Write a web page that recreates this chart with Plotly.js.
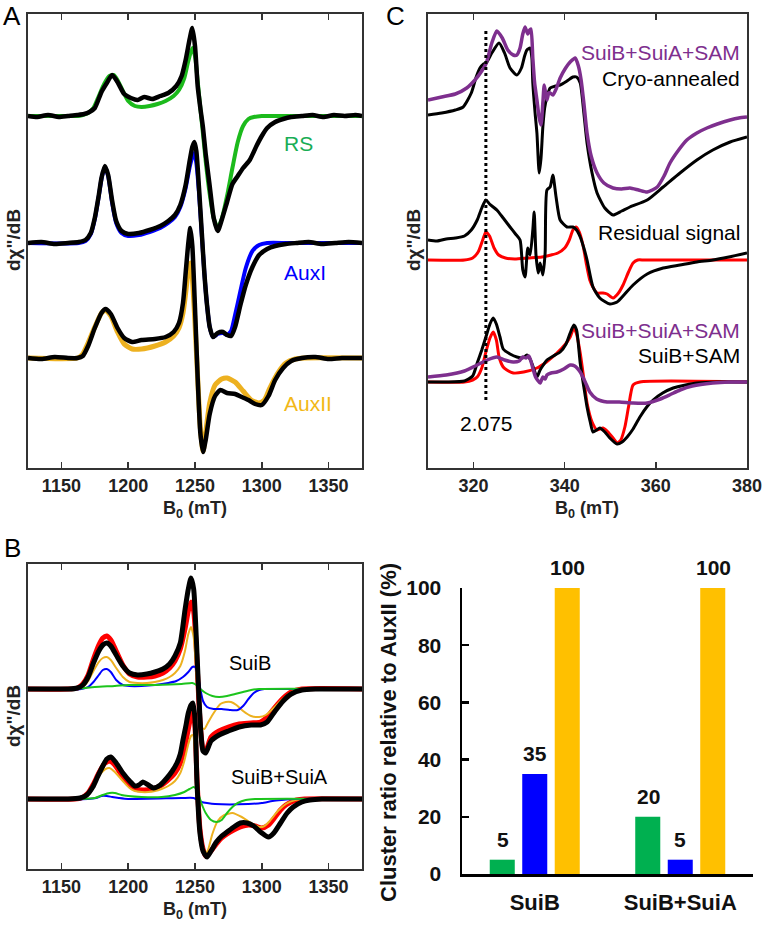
<!DOCTYPE html>
<html><head><meta charset="utf-8">
<script src="https://cdn.plot.ly/plotly-3.0.1.min.js"></script>
<style>html,body{margin:0;padding:0;background:#fff;}#chart{width:762px;height:927px;}</style>
</head><body><div id="chart"></div>
<script>
// ===== Panel A (B0 in mT, signal in arbitrary units relative to each baseline) =====
const aRSDataX = [1125,1132,1140,1148,1155,1162,1167,1171,1175,1180,1184,1188,1192,1197,1202,1207,1212,1218,1224,1230,1236,1240,1243,1246,1248,1250,1252,1254,1256,1258,1261,1264,1267,1270,1274,1278,1282,1286,1291,1296,1300,1304,1310,1316,1322,1330,1338,1346,1354,1362,1370,1375];
const aRSDataY = [0,-1,1,-1,0,1,2,4,8,24,33,41,34,22,18,16,19,17,20,23,30,40,56,77,88,70,30,8,-12,-38,-70,-102,-115,-104,-86,-68,-60,-52,-44,-30,-20,-12,-6,-3,-1,0,1,-1,1,0,1,0];
const aRSFitX = [1125,1140,1155,1162,1166,1170,1174,1178,1182,1186,1189,1192,1196,1200,1205,1210,1216,1222,1228,1234,1238,1242,1245,1248,1250,1252,1254,1256,1258,1261,1264,1267,1270,1274,1278,1282,1286,1290,1294,1300,1320,1350,1375];
const aRSFitY = [0,0,0,0,1,3,8,20,32,40,41,36,25,15,10,9,10,12,15,20,26,38,55,68,60,35,8,-18,-45,-78,-102,-112,-103,-80,-52,-26,-10,-3,-1,0,0,0,0];
const aAux1DataX = [1125,1135,1145,1155,1163,1168,1172,1175,1178,1180,1182.5,1185,1188,1191,1195,1200,1208,1216,1224,1230,1235,1239,1243,1246,1248,1249.5,1251,1253,1255,1257,1259,1261,1263.5,1267,1271,1274,1277,1280,1284,1288,1293,1298,1304,1310,1318,1326,1335,1345,1355,1365,1375];
const aAux1DataY = [0,1,-1,0,1,3,10,25,48,65,77,68,42,22,12,9,10,13,17,22,28,38,58,82,96,101,92,55,12,-30,-62,-84,-94,-90,-89,-92,-93,-84,-62,-42,-24,-12,-6,-3,-1,0,1,-1,0,1,0];
const aAux1FitX = [1125,1163,1168,1172,1175,1178,1180,1182.5,1185,1188,1191,1195,1200,1208,1216,1224,1230,1235,1239,1243,1246,1248,1249.5,1251,1253,1255,1257,1259,1261,1263.5,1267,1271,1274,1277,1280,1284,1288,1293,1298,1304,1320,1375];
const aAux1FitY = [0,0,2,9,24,47,64,76,67,40,20,10,7,8,11,15,20,26,36,55,76,86,90,80,50,10,-30,-62,-84,-94,-91,-90,-92,-88,-72,-48,-25,-8,-2,0,0,0];
const aAux2DataX = [1125,1135,1145,1155,1162,1166,1170,1175,1180,1183,1187,1192,1197,1203,1210,1220,1228,1234,1238,1241,1243,1245,1246.5,1248,1250,1252,1254,1256,1258,1261,1265,1269,1274,1280,1285,1290,1295,1300,1305,1310,1316,1322,1330,1340,1350,1360,1375];
const aAux2DataY = [0,-1,1,0,0,2,12,30,45,49,44,30,20,16,18,19,21,26,35,55,85,115,130,112,50,-20,-75,-94,-82,-56,-38,-32,-35,-36,-39,-42,-46,-47,-38,-22,-10,-3,0,1,-1,0,0];
const aAux2FitX = [1125,1162,1166,1170,1175,1180,1183,1187,1192,1197,1203,1210,1220,1228,1234,1238,1241,1243,1245,1246.5,1248,1250,1252,1254,1256,1258,1261,1265,1270,1274,1280,1286,1292,1298,1302,1306,1312,1318,1325,1332,1375];
const aAux2FitY = [0,0,4,15,31,45,48,42,26,14,9,9,12,16,22,30,45,65,88,95,80,35,-20,-70,-93,-75,-45,-27,-21,-20,-24,-33,-42,-45,-42,-30,-15,-5,-1,0,0];

// ===== Panel B =====
const bSuiBDataX = [1125,1140,1155,1162,1166,1170,1174,1178,1181,1184,1187,1191,1196,1201,1207,1214,1220,1226,1231,1235,1239,1242.5,1245,1247,1249,1251,1253,1254.5,1256,1258,1262,1268,1275,1283,1292,1299,1304,1310,1316,1322,1330,1340,1355,1375];
const bSuiBDataY = [0,0,0,1,4,12,26,38,44,46,43,34,23,16,14,15,17,20,25,33,46,79,100,111,100,50,-10,-45,-62,-64,-52,-46,-42,-38,-36,-36,-33,-22,-12,-5,-1,0,0,0];
const bSuiBTotalX = [1125,1155,1162,1166,1170,1174,1178,1181,1184,1187,1191,1196,1201,1207,1214,1220,1226,1231,1235,1239,1242.5,1245,1247,1249,1251,1253,1254.5,1256,1258,1262,1268,1275,1283,1292,1299,1304,1310,1316,1322,1330,1375];
const bSuiBTotalY = [0,0,1,5,14,30,44,51,53,49,38,24,15,12,12,13,16,21,28,40,60,78,87,78,40,-15,-45,-60,-62,-48,-42,-38,-35,-34,-33,-28,-18,-9,-3,0,0];
const bSuiBAux2X = [1125,1160,1166,1170,1174,1178,1181,1184,1187,1191,1196,1201,1207,1214,1220,1226,1231,1235,1239,1242.5,1245,1247,1249,1251,1253,1255,1257,1260,1264,1269,1273,1277,1281,1286,1292,1298,1303,1308,1314,1320,1326,1335,1375];
const bSuiBAux2Y = [0,0,2,8,18,27,31,32,29,21,12,7,6,6,7,9,12,16,23,38,55,62,52,15,-20,-38,-40,-33,-24,-15,-13,-13,-16,-22,-27,-28,-26,-20,-12,-5,-1,0,0];
const bSuiBAux1X = [1125,1165,1170,1174,1178,1181,1184,1187,1191,1196,1201,1210,1220,1230,1236,1241,1245,1248,1250,1252,1254,1256,1259,1264,1270,1276,1282,1286,1290,1294,1298,1302,1310,1375];
const bSuiBAux1Y = [0,0,2,7,14,19,20,17,9,4,3,3,4,6,8,12,17,22,22,15,0,-12,-18,-20,-20,-21,-21,-17,-10,-4,-1,0,0,0];
const bSuiBRSX = [1125,1160,1175,1190,1200,1220,1240,1248,1251,1254,1258,1263,1268,1274,1280,1286,1292,1298,1375];
const bSuiBRSY = [0,0,2,3,4,4,5,6,4,0,-4,-7,-8,-7,-5,-3,-1,0,0];

const bSuiBADataX = [1125,1140,1155,1164,1169,1173.5,1177,1181,1184,1187,1191,1196,1201,1205,1208,1211,1215,1219,1224,1229,1233,1236.5,1239,1241,1243,1245,1247,1248.5,1250,1251.5,1253.7,1256,1259,1262,1266,1270,1274,1279,1284,1289,1294,1299,1305,1309,1314,1319,1323.5,1330,1336,1345,1355,1365,1375];
const bSuiBADataY = [0,0,0,1,4,12,22,33,40,42,36,26,18,13,14,17,14,11,14,21,28,36,45,59,72,86,94,96,80,16,-34,-52,-58,-52,-43,-37,-33,-28,-24,-24,-27,-33,-38,-34,-24,-14,-8,-3,-1,0,0,0,0];
const bSuiBATotalX = [1125,1160,1165,1170,1174,1178,1182,1186,1190,1195,1200,1205,1212,1218,1224,1229,1235,1239,1242,1245,1247,1248.5,1250,1251.5,1253.7,1256,1258,1262,1266,1270,1274,1279,1284,1290,1295,1300,1305,1310,1314,1318,1322,1326,1332,1375];
const bSuiBATotalY = [0,0,1,6,15,26,35,38,34,24,15,10,9,10,13,18,26,36,50,70,83,88,72,20,-30,-50,-57,-52,-45,-39,-35,-31,-28,-26,-27,-29,-26,-18,-11,-6,-3,-1,0,0];
const bSuiBAAux2X = [1125,1162,1167,1171,1175,1179,1183,1186,1190,1196,1201,1205,1210,1215,1220,1225,1230,1235,1239,1242,1245,1247,1248.5,1250,1251.5,1253,1255,1258,1260,1263,1267,1272,1278,1285,1292,1298,1302,1306,1312,1318,1325,1332,1375];
const bSuiBAAux2Y = [0,0,2,8,17,25,30,31,27,18,11,8,7,7,8,10,13,18,26,38,55,63,64,48,10,-20,-42,-55,-50,-35,-22,-16,-14,-18,-24,-28,-27,-22,-12,-5,-1,0,0];
const bSuiBARSX = [1125,1165,1175,1181,1186,1190,1195,1200,1210,1225,1235,1242,1246,1249,1251,1253,1255,1258,1262,1266,1270,1274,1278,1282,1288,1295,1375];
const bSuiBARSY = [0,0,1,4,6,6,4,3,2,2,4,7,10,12,10,3,-5,-14,-21,-23,-21,-14,-8,-4,-1,0,0];
const bSuiBAAux1X = [1125,1170,1176,1180,1184,1188,1193,1200,1240,1249,1252,1255,1259,1265,1290,1300,1308,1315,1325,1375];
const bSuiBAAux1Y = [0,0,1,3,3,2,1,0,1,1,-1,-3,-4,-5,-5,-4,-2,-1,0,0];

// ===== Panel C =====
const cAnnPurpleX = [310,313,316,318.5,320.3,321.8,322.8,324,325.1,326.3,327.5,328.7,329.5,330.2,330.8,331.3,331.9,332.3,332.6,333.0,333.4,333.9,334.4,334.8,335.2,335.5,335.8,336.1,336.5,336.8,337.4,338.2,339.0,340.2,341.2,342.3,343.0,343.6,344.2,344.9,345.8,347.1,348.6,350.6,352.5,354.3,356.2,358.1,360.3,361.8,363.1,365,366.8,369,371.2,373.5,376.3,378.2,380];
const cAnnPurpleY = [18,21,24,30,38,47,55,75,87,80,68,63,63,70,84,91,84,88,89,60,35,18,0,-7,15,33,25,18,25,25,23,30,40,50,56,60,52,38,15,-15,-38,-55,-65,-70,-71,-70,-72,-74,-69,-58,-45,-32,-22,-15,-10,-6,-2,0,1];
const cAnnBlackX = [310,313,316,317.7,319.5,320.5,321.4,322.2,322.9,324,325.6,326.8,328,329.5,330.5,331.2,331.7,332.4,332.8,333.0,333.5,333.9,334.4,334.8,335.2,335.6,336.1,336.8,338,339,340.5,341.8,342.6,343.4,344.2,344.9,346,347.1,348.8,350.6,352.5,354.3,358.1,361.6,365.3,369,372.5,376.3,380];
const cAnnBlackY = [3,5,8,11,25,40,50,54,56,65,75,65,50,43,50,62,68,70,60,35,5,-15,-55,-40,-9,10,21,30,32,33,37,41,41,35,5,-25,-55,-75,-90,-97,-93,-89,-82,-69,-55,-42,-32,-24,-19];
const cResBlackX = [310,312,314,316,318,319.5,320.8,321.8,322.7,323.5,325.1,326.5,328,329.2,330.2,330.8,331.3,331.9,332.4,333.0,333.3,333.7,334.2,334.6,335.2,335.7,336.1,336.8,337.4,338.1,339,340.5,341.8,342.6,343.4,344.2,344.9,346.2,347.7,349.9,351.5,353,355,358.1,361.6,365.3,369,372.5,376,380];
const cResBlackY = [20,19,21,22,24,30,40,52,60,56,50,42,33,26,20,-10,-17,12,5,30,48,5,-13,-3,-15,7,70,73,85,63,40,33,33,30,23,12,0,-27,-38,-44,-42,-35,-25,-14,-8,-5,-2,0,3,7];
const cResRedX = [310,318,319.8,321,322,322.7,323.5,324.5,325.5,327,329,332,335,337,338.5,340,341,341.8,342.5,343.2,344,344.8,345.5,346.3,347.1,348.4,349.3,350.6,351.8,352.8,354,355,356,357.5,380];
const cResRedY = [0,0,2,8,20,28,24,12,5,2,1,2,3,5,7,12,20,30,33,28,15,-5,-20,-28,-33,-33,-34,-38,-33,-25,-12,-3,0,0,0];
const cSamBlackX = [310,314,318,319.8,320.8,321.8,322.7,323.6,324.3,325,325.8,326.5,328,329.5,330.8,331.7,332.5,333.3,333.9,334.6,335.3,336.1,337.5,339.0,340.3,341.2,342.0,342.6,343.4,344.2,344.9,345.6,346.2,347.0,347.7,348.8,349.9,351.5,352.6,353.7,355,356.5,358,359.4,361.5,363.8,366.5,369,374,380];
const cSamBlackY = [0,0,1,6,19,32,45,58,64,58,45,33,28,25,24,27,22,12,5,12,17,22,26,30,38,49,57,52,19,-5,-25,-40,-50,-48,-46,-50,-56,-62,-60,-55,-47,-35,-25,-18,-11,-6,-3,-1,0,0];
const cSamRedX = [310,318,319.8,320.8,321.8,322.7,323.6,324.3,325,325.6,326.5,327.3,328.7,331,333.9,336,338.3,340,341.2,342.0,342.6,343.4,344.2,344.9,346,347.1,348.4,349.5,350.6,351.5,352.3,353.2,354,355,356.5,380];
const cSamRedY = [0,0,2,5,14,30,44,50,42,25,15,12,9,10,14,20,29,37,45,54,48,29,3,-21,-40,-48,-46,-50,-56,-61,-58,-45,-25,-3,0,0];
const cSamPurpleX = [310,314,318,320.8,323,325.1,326.8,328.7,330,330.8,331.5,332.1,332.5,333.0,333.6,334.6,335.2,335.7,336.1,337,338.3,339.8,341.2,342.2,343.4,344.5,345.5,347,349.3,352,355,358.1,361,363,365.3,368,372.5,376,380];
const cSamPurpleY = [5,7,11,17,22,25,22,20,21,25,24,26,22,14,5,-1,5,3,7,9,10,13,17,16,10,0,-10,-17,-20,-20,-21,-21,-17,-13,-8,-4,-1,0,0];
const cMarkerField = [322.7];   // g = 2.075

// ===== Tick labels =====
const ticksA = [1150, 1200, 1250, 1300, 1350];
const ticksC = [320, 340, 360, 380];
const ticksBar = [0, 20, 40, 60, 80, 100];

// ===== Bar panel =====
const barCategories = ['SuiB', 'SuiB+SuiA'];
const barRS = [5, 20];
const barAuxI = [35, 5];
const barAuxII = [100, 100];

// ---------- layout helpers ----------
const W = 762, H = 927;
const FONT = 'Liberation Sans, Arial, Helvetica, sans-serif';
const dx = (l, r) => [l / W, r / W];
const dy = (t, b) => [(H - b) / H, (H - t) / H];
const off = (arr, o) => arr.map(v => v + o);
const bold = arr => arr.map(v => '<b>' + v + '</b>');
// stack offsets (vertical placement of each spectrum in its panel)
const OFF = {A:[352,225,110], B:[180,70], C:[350,208,86]};

function ln(x, y, color, width, xa, ya) {
  return {type:'scatter', mode:'lines', x:x, y:y, xaxis:xa, yaxis:ya,
    line:{color:color, width:width, shape:'spline', smoothing:0.6},
    hoverinfo:'skip', showlegend:false};
}

const GREEN_A = '#1cba1c', BLUE = '#0000ff', ORANGE = '#edb120', RED = '#ff0000', PURPLE = '#7e2f8e', GREEN_B = '#1cc41c';

const traces = [
  // Panel A
  ln(aRSFitX, off(aRSFitY, OFF.A[0]), GREEN_A, 4, 'x', 'y'),
  ln(aRSDataX, off(aRSDataY, OFF.A[0]), '#000', 4.5, 'x', 'y'),
  ln(aAux1FitX, off(aAux1FitY, OFF.A[1]), BLUE, 4, 'x', 'y'),
  ln(aAux1DataX, off(aAux1DataY, OFF.A[1]), '#000', 4.5, 'x', 'y'),
  ln(aAux2FitX, off(aAux2FitY, OFF.A[2]), ORANGE, 5, 'x', 'y'),
  ln(aAux2DataX, off(aAux2DataY, OFF.A[2]), '#000', 4.5, 'x', 'y'),
  // Panel C
  ln(cAnnBlackX, off(cAnnBlackY, OFF.C[0]), '#000', 3, 'x2', 'y2'),
  ln(cAnnPurpleX, off(cAnnPurpleY, OFF.C[0]), PURPLE, 3.5, 'x2', 'y2'),
  ln(cResRedX, off(cResRedY, OFF.C[1]), RED, 3, 'x2', 'y2'),
  ln(cResBlackX, off(cResBlackY, OFF.C[1]), '#000', 3, 'x2', 'y2'),
  ln(cSamRedX, off(cSamRedY, OFF.C[2]), RED, 3, 'x2', 'y2'),
  ln(cSamBlackX, off(cSamBlackY, OFF.C[2]), '#000', 3, 'x2', 'y2'),
  ln(cSamPurpleX, off(cSamPurpleY, OFF.C[2]), PURPLE, 3.5, 'x2', 'y2'),
  // Panel B
  ln(bSuiBTotalX, off(bSuiBTotalY, OFF.B[0]), RED, 5, 'x3', 'y3'),
  ln(bSuiBAux2X, off(bSuiBAux2Y, OFF.B[0]), ORANGE, 2, 'x3', 'y3'),
  ln(bSuiBAux1X, off(bSuiBAux1Y, OFF.B[0]), BLUE, 2, 'x3', 'y3'),
  ln(bSuiBRSX, off(bSuiBRSY, OFF.B[0]), GREEN_B, 2, 'x3', 'y3'),
  ln(bSuiBDataX, off(bSuiBDataY, OFF.B[0]), '#000', 5, 'x3', 'y3'),
  ln(bSuiBATotalX, off(bSuiBATotalY, OFF.B[1]), RED, 5, 'x3', 'y3'),
  ln(bSuiBAAux2X, off(bSuiBAAux2Y, OFF.B[1]), ORANGE, 2, 'x3', 'y3'),
  ln(bSuiBAAux1X, off(bSuiBAAux1Y, OFF.B[1]), BLUE, 2, 'x3', 'y3'),
  ln(bSuiBARSX, off(bSuiBARSY, OFF.B[1]), GREEN_B, 2, 'x3', 'y3'),
  ln(bSuiBADataX, off(bSuiBADataY, OFF.B[1]), '#000', 5, 'x3', 'y3'),
  // Bars
  {type:'bar', x:barCategories, y:barRS, marker:{color:'#00b050'}, xaxis:'x4', yaxis:'y4', hoverinfo:'skip', showlegend:false},
  {type:'bar', x:barCategories, y:barAuxI, marker:{color:'#0000ff'}, xaxis:'x4', yaxis:'y4', hoverinfo:'skip', showlegend:false},
  {type:'bar', x:barCategories, y:barAuxII, marker:{color:'#ffc000'}, xaxis:'x4', yaxis:'y4', hoverinfo:'skip', showlegend:false}
];

function specX(domain, range, tickvals) {
  return {domain:domain, range:range, tickmode:'array', tickvals:tickvals, ticktext:bold(tickvals),
    ticks:'inside', ticklen:6, tickwidth:1.5, tickcolor:'#333',
    showline:true, linecolor:'#333', linewidth:2, mirror:'ticks', showgrid:false, zeroline:false,
    tickfont:{family:FONT, size:18, color:'#222'}, ticklabelstandoff:0, ticklabeloverflow:'allow', fixedrange:true};
}
function specY(domain, range) {
  return {domain:domain, range:range, showticklabels:false, ticks:'', showline:true, linecolor:'#333', linewidth:2,
    mirror:true, showgrid:false, zeroline:false, fixedrange:true};
}

const layout = {
  width:W, height:H, margin:{l:0, r:0, t:0, b:0}, paper_bgcolor:'#fff', plot_bgcolor:'#fff',
  showlegend:false, barmode:'group', bargap:0.33, bargroupgap:0.23,
  xaxis: Object.assign(specX(dx(28,362), [1125,1375], ticksA), {anchor:'y'}),
  yaxis: Object.assign(specY(dy(14,468), [0,454]), {anchor:'x'}),
  xaxis2: Object.assign(specX(dx(428,747), [310,380], ticksC), {anchor:'y2'}),
  yaxis2: Object.assign(specY(dy(14,468), [0,454]), {anchor:'x2'}),
  xaxis3: Object.assign(specX(dx(28,362), [1125,1375], ticksA), {anchor:'y3'}),
  yaxis3: Object.assign(specY(dy(564,869), [0,305]), {anchor:'x3'}),
  xaxis4: {domain:dx(462,753), anchor:'y4', type:'category', range:[-0.5,1.5], showline:true, linecolor:'#000', linewidth:2.5,
    tickmode:'array', tickvals:barCategories, ticktext:bold(barCategories),
    ticks:'', showgrid:false, zeroline:false, tickfont:{family:FONT, size:22, color:'#111'}, ticklabelstandoff:7, fixedrange:true},
  yaxis4: {domain:dy(588,874), anchor:'x4', range:[0,100], tickmode:'array', tickvals:ticksBar, ticktext:bold(ticksBar),
    ticks:'inside', ticklen:7, tickwidth:2.5, tickcolor:'#000',
    showline:true, linecolor:'#000', linewidth:2.5, showgrid:false, zeroline:false,
    tickfont:{family:FONT, size:21, color:'#111'}, ticklabelstandoff:14, ticklabeloverflow:'allow', fixedrange:true},
  shapes: [
    {type:'line', xref:'x2', yref:'paper', x0:cMarkerField[0], x1:cMarkerField[0], y0:1-400/H, y1:1-28/H,
      line:{color:'#000', width:3, dash:'dot'}}
  ],
  annotations: []
};

function ann(text, xpx, ypx, o) {
  o = o || {};
  return {xref:'paper', yref:'paper', x:xpx/W, y:1-ypx/H, text:text, showarrow:false,
    xanchor:o.xanchor||'center', yanchor:'middle', textangle:o.angle||0,
    font:{family:FONT, size:o.size||20, color:o.color||'#000'}};
}
const A = layout.annotations;
// panel letters
A.push(ann('A', 12, 16, {size:26}));
A.push(ann('C', 395, 16, {size:26}));
A.push(ann('B', 12, 548, {size:26}));
// axis titles
A.push(ann('<b>B<sub>0</sub> (mT)</b>', 195, 509, {size:18, color:'#222'}));
A.push(ann('<b>B<sub>0</sub> (mT)</b>', 587, 509, {size:18, color:'#222'}));
A.push(ann('<b>B<sub>0</sub> (mT)</b>', 195, 910, {size:18, color:'#222'}));
A.push(ann('<b>dχ"/dB</b>', 13, 240, {size:19, angle:-90, color:'#222'}));
A.push(ann('<b>dχ"/dB</b>', 413, 240, {size:19, angle:-90, color:'#222'}));
A.push(ann('<b>dχ"/dB</b>', 13, 716, {size:19, angle:-90, color:'#222'}));
A.push(ann('<b>Cluster ratio relative to AuxII (%)</b>', 388, 733, {size:22, angle:-90, color:'#111'}));
// panel A labels
A.push(ann('RS', 282, 143, {xanchor:'left', size:21, color:'#19ad55'}));
A.push(ann('AuxI', 282, 273, {xanchor:'left', size:21, color:BLUE}));
A.push(ann('AuxII', 282, 403, {xanchor:'left', size:21, color:'#f2b818'}));
// panel C labels
A.push(ann('SuiB+SuiA+SAM', 742, 53, {xanchor:'right', size:21, color:PURPLE}));
A.push(ann('Cryo-annealed', 742, 78, {xanchor:'right', size:21}));
A.push(ann('Residual signal', 742, 233, {xanchor:'right', size:21}));
A.push(ann('SuiB+SuiA+SAM', 742, 330, {xanchor:'right', size:21, color:PURPLE}));
A.push(ann('SuiB+SAM', 742, 356, {xanchor:'right', size:21}));
A.push(ann('2.075', 486, 423, {size:21}));
// panel B labels
A.push(ann('SuiB', 250, 663, {size:20}));
A.push(ann('SuiB+SuiA', 279, 777, {size:20}));
// bar value labels
const series = [barRS, barAuxI, barAuxII];
const shiftPx = [-32, 0, 33];
series.forEach((s, k) => s.forEach((v, i) => {
  A.push({xref:'x4', yref:'y4', x:barCategories[i], y:v, xshift:shiftPx[k], yshift:7, yanchor:'bottom', xanchor:'center',
    text:'<b>' + v + '</b>', showarrow:false, font:{family:FONT, size:21, color:'#111'}});
}));

Plotly.newPlot('chart', traces, layout, {staticPlot:true, displayModeBar:false});
</script>
</body></html>
